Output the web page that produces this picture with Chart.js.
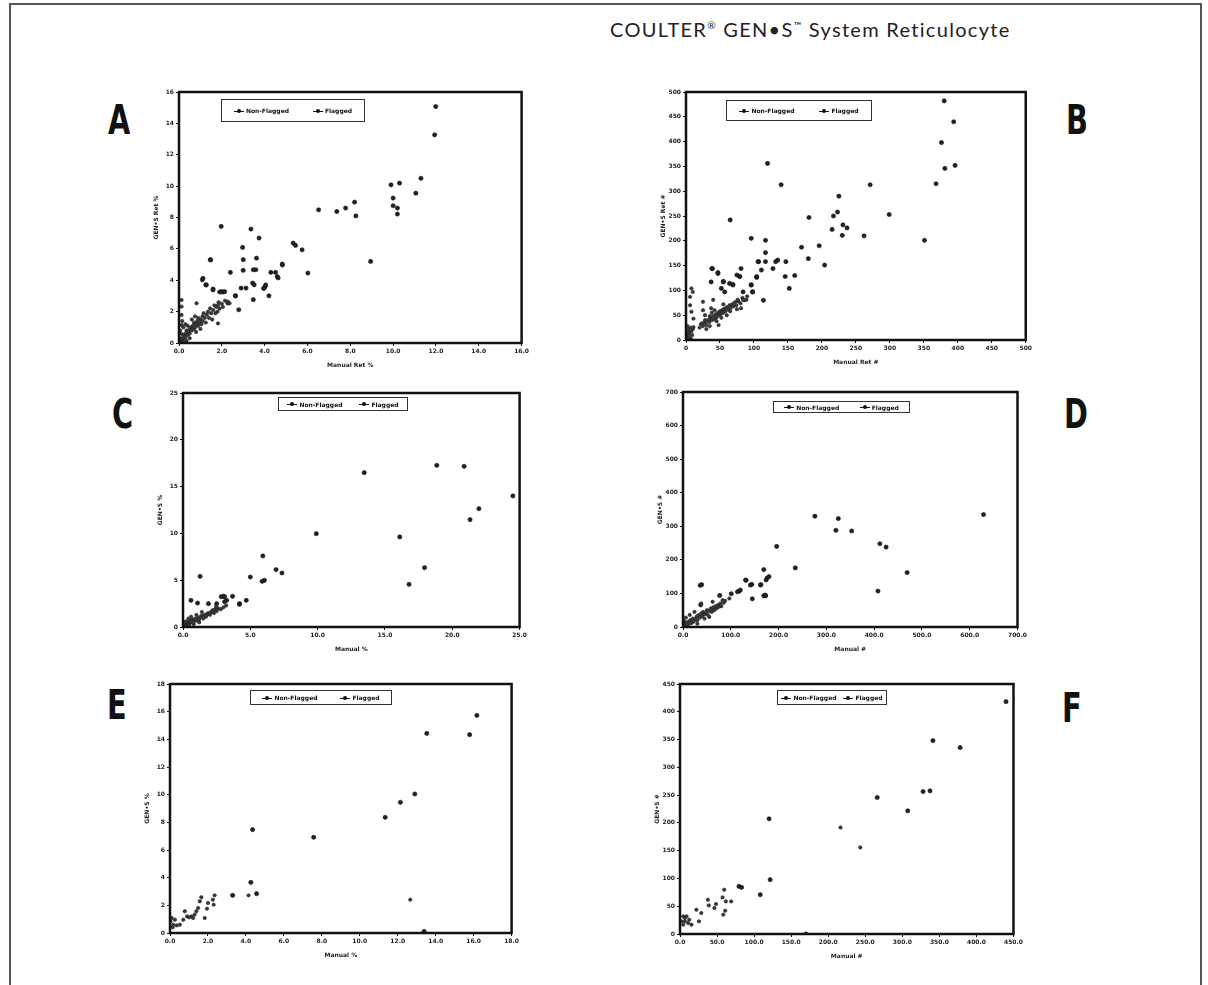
<!DOCTYPE html>
<html>
<head>
<meta charset="utf-8">
<script src="https://cdn.jsdelivr.net/npm/chart.js@4.4.1/dist/chart.umd.min.js"></script>
<style>
  html, body { margin: 0; padding: 0; background: #fff; }
  body { width: 1208px; height: 985px; position: relative; overflow: hidden; }
  .frame { position: absolute; left: 9px; top: 3px; width: 1189px; height: 1000px; border: 2px solid #555; border-bottom: none; }
  .title { position: absolute; left: 610px; top: 17px; font-family: "Lato", "Open Sans", sans-serif; font-size: 20px; letter-spacing: 1.3px; color: #222; white-space: nowrap; }
  .title sup { font-size: 10px; }
  .letter { position: absolute; font-family: "Liberation Sans Narrow", "DejaVu Sans Condensed", sans-serif; font-weight: bold; font-size: 40px; color: #111; line-height: 1; transform: scaleX(0.8); transform-origin: left top; }
  .panel { position: absolute; }
  .legend { position: absolute; border: 1px solid #333; display: flex; align-items: center; justify-content: space-around;
            font-family: "DejaVu Sans", sans-serif; font-size: 6px; font-weight: bold; color: #111; background: #fff; box-sizing: border-box;
            filter: grayscale(1); -webkit-font-smoothing: antialiased; }
  .legend span.m { display: inline-block; width: 10px; height: 1px; background: #111; position: relative; vertical-align: middle; margin-right: 2px; }
  .legend span.m::after { content: ""; position: absolute; left: 3px; top: -2px; width: 4px; height: 4px; border-radius: 50%; background: #111; }
</style>
</head>
<body>
<div class="frame"></div>
<div class="title">COULTER<sup>®</sup> GEN•S<sup>™</sup> System Reticulocyte</div>

<script>
// ---- data ----
const seriesNames = ["Non-Flagged", "Flagged"];

const aNonFlagged = [[0.05,0.1],[0.1,0.3],[0.15,0.2],[0.2,0.5],[0.1,0.6],[0.25,0.3],[0.3,0.6],[0.3,0.4],[0.35,0.8],[0.4,0.5],
  [0.45,0.7],[0.5,0.9],[0.5,0.6],[0.55,1.0],[0.6,0.8],[0.65,1.1],[0.7,0.9],[0.7,1.3],[0.75,1.0],[0.8,1.2],[0.85,1.4],[0.9,1.1],
  [0.9,1.6],[0.95,1.3],[1.0,1.5],[1.05,1.2],[1.1,1.7],[1.1,1.4],[1.15,1.9],[1.2,1.6],[1.25,1.3],[1.3,1.8],[1.35,2.0],[1.4,1.6],
  [1.45,2.2],[1.5,1.9],[1.55,1.5],[1.6,2.1],[1.65,2.4],[1.7,1.9],[1.75,2.3],[1.8,2.0],[1.85,2.6],[1.9,2.2],[2.0,2.5],[2.05,2.3],
  [2.15,2.7],[0.2,1.0],[0.15,1.4],[0.3,1.2],[0.4,1.1],[0.6,1.5],[0.75,1.7],[0.5,0.3],[0.8,0.7],[1.0,0.9],[0.05,0.8],[0.1,0.05],
  [0.2,0.1],[0.35,0.15],[0.12,2.74],[0.12,2.32],[0.12,1.79],[0.12,1.15],[0.82,2.53],[1.82,1.25],[1.82,2.42],[2.28,2.63],[2.36,2.53]];
const aFlagged = [[11.99,15.07],[11.94,13.27],[11.3,10.5],[11.06,9.55],[10.3,10.19],[9.9,10.08],[10.0,9.24],[10.0,8.75],[10.2,8.6],
  [10.2,8.22],[8.95,5.2],[8.2,8.98],[8.26,8.1],[7.78,8.6],[7.37,8.38],[6.52,8.49],[6.02,4.46],[5.75,5.94],[5.44,6.22],[5.33,6.37],
  [4.82,5.03],[4.59,4.24],[4.51,4.5],[4.2,3.01],[4.02,3.6],[3.98,3.5],[3.74,6.69],[3.62,5.41],[3.59,4.67],[3.47,4.67],[3.36,7.26],
  [3.44,3.82],[3.51,3.71],[3.47,2.76],[2.97,6.09],[3.0,5.31],[3.0,4.63],[2.9,3.5],[3.13,3.5],[2.79,2.12],[2.4,4.5],[2.63,3.01],
  [2.28,2.55],[1.97,7.43],[2.05,3.25],[1.9,3.25],[1.59,3.44],[1.46,5.31],[1.25,3.71],[1.09,4.03],[1.12,4.12],[1.28,3.7],[1.48,5.29],
  [1.59,3.38],[1.97,3.27],[2.13,3.27],[2.64,3.0],[3.95,3.48],[4.05,3.7],[4.29,4.5],[4.63,4.15],[4.83,4.97]];

const bNonFlagged = [[20,25],[22,32],[25,28],[28,35],[30,30],[32,40],[34,36],[36,44],[38,40],[40,48],[42,42],[44,52],[45,46],[47,55],
  [48,50],[50,58],[51,52],[53,60],[55,55],[56,63],[58,58],[60,66],[62,62],[64,70],[66,65],[68,72],[70,68],[72,76],[74,70],[77,78],
  [80,74],[83,85],[86,80],[90,88],[30,22],[35,28],[45,38],[52,45],[60,50],[65,58],[42,60],[55,72],[75,62],[48,30],[28,50],[38,55],
  [1,5],[2,12],[3,20],[4,8],[5,15],[6,25],[7,3],[8,18],[2,28],[9,10],[3,2],[10,22],[8,104],[10,97],[6,87],[6,70],[8,57],[11,43],
  [11,26],[25,77],[25,60],[28,40],[24,34],[40,81],[37,64],[35,48],[76,81],[81,64],[84,81],[89,81]];
const bFlagged = [[380,482],[394,440],[376,398],[381,346],[396,352],[368,315],[120,356],[140,313],[271,313],[299,253],[351,201],
  [225,290],[223,258],[217,250],[215,223],[230,211],[231,232],[237,226],[262,210],[181,247],[196,190],[204,151],[170,187],[180,164],
  [160,130],[146,128],[152,104],[147,158],[135,161],[132,158],[128,144],[117,201],[117,176],[117,158],[107,158],[104,126],[96,205],
  [96,111],[98,97],[114,80],[65,242],[81,144],[79,128],[75,131],[69,111],[55,117],[47,136],[38,144],[37,117],[39,144],[47,134],
  [55,118],[52,104],[57,97],[64,114],[69,112],[79,128],[84,97],[96,111],[98,97],[104,128],[106,158],[111,141]];

const cNonFlagged = [[0.1,0.1],[0.2,0.3],[0.3,0.2],[0.35,0.5],[0.5,0.4],[0.5,0.7],[0.6,0.5],[0.7,0.8],[0.8,0.6],[0.9,0.9],[1.0,0.7],
  [1.1,1.0],[1.2,0.8],[1.3,1.1],[1.4,1.2],[1.5,0.9],[1.6,1.3],[1.7,1.1],[1.8,1.4],[1.9,1.5],[2.0,1.3],[2.1,1.6],[2.2,1.8],[2.3,1.5],
  [2.4,1.9],[2.5,1.7],[2.6,2.0],[2.8,1.9],[3.0,2.1],[3.2,2.3],[0.2,0.6],[0.4,0.9],[0.15,0.15],[0.25,0.05],[0.6,1.1],[1.0,1.3],
  [1.4,1.6],[0.8,0.3],[1.2,0.5],[0.45,0.2],[2.45,2.17],[2.2,1.64],[1.74,1.28]];
const cFlagged = [[13.46,16.49],[18.85,17.27],[20.88,17.17],[24.5,14.0],[21.98,12.64],[21.32,11.47],[16.1,9.62],[9.9,9.97],
  [17.94,6.34],[16.79,4.56],[5.93,7.59],[6.91,6.13],[7.35,5.77],[6.05,4.99],[5.88,4.88],[5.0,5.34],[4.7,2.85],[4.2,2.49],[1.27,5.41],
  [0.59,2.85],[1.08,2.56],[1.89,2.49],[2.5,2.49],[3.0,3.28],[3.68,3.28],[3.24,2.85],[2.84,3.24],[3.09,3.24],[3.09,2.7],[4.19,2.42]];

const dNonFlagged = [[3,5],[5,12],[8,3],[10,15],[12,8],[15,20],[18,12],[20,25],[22,16],[25,22],[28,30],[30,20],[32,35],[35,28],
  [38,40],[40,32],[42,45],[45,38],[48,42],[50,50],[52,36],[55,48],[58,55],[60,45],[63,58],[65,50],[68,62],[70,55],[73,65],[75,60],
  [78,70],[80,62],[85,72],[88,78],[2,18],[6,28],[14,36],[24,45],[45,25],[30,10],[55,30],[38,70],[62,75],[76,93],[83,80],[97,85]];
const dFlagged = [[629,335],[276,330],[325,323],[320,288],[353,286],[412,248],[425,238],[469,162],[408,107],[196,240],[235,176],
  [169,171],[176,146],[163,126],[169,93],[173,93],[145,84],[132,139],[144,127],[118,107],[101,99],[77,94],[39,126],[36,124],[37,66],
  [114,105],[120,110],[131,140],[141,125],[162,125],[174,140],[180,150],[172,95]];

const eNonFlagged = [[2.35,2.72],[2.26,2.41],[2.3,2.05],[2.0,2.17],[1.95,1.76],[1.83,1.08],[1.65,2.58],[1.57,2.29],[1.48,1.81],
  [1.39,1.57],[1.3,1.33],[1.13,1.2],[0.9,1.2],[0.78,1.57],[0.7,0.96],[0.52,0.6],[0.26,0.96],[0.09,1.08],[0.17,0.6],[0.35,0.55],
  [0.03,0.84],[1.22,1.08],[1.0,1.13],[0.14,0.41],[4.14,2.72],[12.66,2.41]];
const eFlagged = [[16.17,15.73],[15.79,14.34],[13.53,14.43],[12.9,10.05],[12.14,9.45],[11.34,8.36],[7.57,6.92],[4.35,7.47],
  [4.26,3.66],[4.56,2.84],[3.3,2.72],[13.39,0.12]];

const fNonFlagged = [[59.7,79.7],[61.9,58.7],[61,41.9],[58.4,34.8],[69,58.7],[57.5,65.9],[46.4,46.7],[48.6,53.9],[37.6,61.7],
  [38.9,51.5],[28.7,37.7],[22.1,43.7],[25.6,22.8],[8.8,31.8],[4.4,31.8],[6.6,22.8],[11,19.8],[15.5,16.8],[2.2,22.8],[6.6,28.8],
  [12.4,25.8],[4.4,16.8],[243.2,155.8],[216.6,191.7]];
const fFlagged = [[439.9,418.2],[341.3,348.1],[378,335.5],[328,256.4],[337.3,257.6],[266.1,245.7],[307.3,221.7],[120.2,207.3],
  [121.6,97.7],[108.3,70.7],[79.6,85.7],[83.1,83.9],[170.2,0]];

// tick labels
const aXTicks = [0, 2, 4, 6, 8, 10, 12, 14, 16];
const aYTicks = [0, 2, 4, 6, 8, 10, 12, 14, 16];
const bXTicks = [0, 50, 100, 150, 200, 250, 300, 350, 400, 450, 500];
const bYTicks = [0, 50, 100, 150, 200, 250, 300, 350, 400, 450, 500];
const cXTicks = [0, 5, 10, 15, 20, 25];
const cYTicks = [0, 5, 10, 15, 20, 25];
const dXTicks = [0, 100, 200, 300, 400, 500, 600, 700];
const dYTicks = [0, 100, 200, 300, 400, 500, 600, 700];
const eXTicks = [0, 2, 4, 6, 8, 10, 12, 14, 16, 18];
const eYTicks = [0, 2, 4, 6, 8, 10, 12, 14, 16, 18];
const fXTicks = [0, 50, 100, 150, 200, 250, 300, 350, 400, 450];
const fYTicks = [0, 50, 100, 150, 200, 250, 300, 350, 400, 450];

// panel placement (plot area rectangles on the page)
const panels = [
  { letter: "A", lx: 108, ly: 100, plot: [179, 92, 525, 343], nf: aNonFlagged, fl: aFlagged, xt: aXTicks, yt: aYTicks, xd: 1, yd: 0,
    xTitle: "Manual Ret %", yTitle: "GEN•S Ret %", legend: [221, 99, 144, 23] },
  { letter: "B", lx: 1066, ly: 100, plot: [686, 92, 1028, 340], nf: bNonFlagged, fl: bFlagged, xt: bXTicks, yt: bYTicks, xd: 0, yd: 0,
    xTitle: "Manual Ret #", yTitle: "GEN•S Ret #", legend: [726, 100, 146, 21] },
  { letter: "C", lx: 112, ly: 394, plot: [183, 393, 523, 627], nf: cNonFlagged, fl: cFlagged, xt: cXTicks, yt: cYTicks, xd: 1, yd: 0,
    xTitle: "Manual %", yTitle: "GEN•S %", legend: [278, 397, 130, 14] },
  { letter: "D", lx: 1064, ly: 394, plot: [683, 392, 1023, 627], nf: dNonFlagged, fl: dFlagged, xt: dXTicks, yt: dYTicks, xd: 1, yd: 0,
    xTitle: "Manual #", yTitle: "GEN•S #", legend: [773, 401, 137, 12] },
  { letter: "E", lx: 107, ly: 685, plot: [170, 684, 515, 933], nf: eNonFlagged, fl: eFlagged, xt: eXTicks, yt: eYTicks, xd: 1, yd: 0,
    xTitle: "Manual %", yTitle: "GEN•S %", legend: [250, 690, 142, 15] },
  { letter: "F", lx: 1062, ly: 688, plot: [680, 684, 1019, 934], nf: fNonFlagged, fl: fFlagged, xt: fXTicks, yt: fYTicks, xd: 1, yd: 0,
    xTitle: "Manual #", yTitle: "GEN•S #", legend: [777, 690, 110, 15] }
];

const boxPlugin = {
  id: "box",
  afterDraw(chart) {
    const a = chart.chartArea, ctx = chart.ctx;
    ctx.save();
    ctx.strokeStyle = "#111";
    ctx.lineWidth = 2.5;
    ctx.strokeRect(a.left, a.top, a.right - a.left, a.bottom - a.top);
    ctx.restore();
  }
};

const AXW = 26, AXH = 30, PAD = 6;

panels.forEach((p) => {
  const [l, t, r, b] = p.plot;
  const cv = document.createElement("canvas");
  const w = (r - l) + AXW + PAD, h = (b - t) + PAD + AXH;
  const wrap = document.createElement("div");
  wrap.className = "panel";
  wrap.style.left = (l - AXW) + "px";
  wrap.style.top = (t - PAD) + "px";
  wrap.style.width = w + "px";
  wrap.style.height = h + "px";
  wrap.appendChild(cv);
  document.body.appendChild(wrap);

  const letter = document.createElement("div");
  letter.className = "letter";
  letter.style.left = p.lx + "px";
  letter.style.top = p.ly + "px";
  letter.textContent = p.letter;
  document.body.appendChild(letter);

  const lg = document.createElement("div");
  lg.className = "legend";
  lg.style.left = p.legend[0] + "px";
  lg.style.top = p.legend[1] + "px";
  lg.style.width = p.legend[2] + "px";
  lg.style.height = p.legend[3] + "px";
  lg.innerHTML = seriesNames.map((n) => '<span><span class="m"></span>' + n + "</span>").join("");
  document.body.appendChild(lg);

  const toXY = (arr) => arr.map((d) => ({ x: d[0], y: d[1] }));
  const axisFont = { family: "DejaVu Sans", size: 6, weight: "bold" };

  new Chart(cv, {
    type: "scatter",
    data: {
      datasets: [
        { label: seriesNames[0], data: toXY(p.nf), pointRadius: 1.7, backgroundColor: "#3a3a3a", borderColor: "#222", borderWidth: 0.6 },
        { label: seriesNames[1], data: toXY(p.fl), pointRadius: 2.1, backgroundColor: "#222", borderColor: "#111", borderWidth: 0.6 }
      ]
    },
    options: {
      responsive: true,
      maintainAspectRatio: false,
      animation: false,
      layout: { padding: { top: PAD, right: PAD, left: 0, bottom: 0 } },
      plugins: { legend: { display: false }, tooltip: { enabled: false } },
      scales: {
        x: {
          type: "linear",
          min: p.xt[0], max: p.xt[p.xt.length - 1],
          afterBuildTicks: (s) => { s.ticks = p.xt.map((v) => ({ value: v })); },
          afterFit: (s) => { s.height = AXH; },
          ticks: { font: axisFont, color: "#222", padding: 2, maxRotation: 0, autoSkip: false,
                   callback: (v) => Number(v).toFixed(p.xd) },
          grid: { drawOnChartArea: false, drawTicks: true, tickLength: 3, color: "#111" },
          border: { display: false },
          title: { display: true, text: p.xTitle, font: axisFont, color: "#222", padding: { top: 2, bottom: 4 } }
        },
        y: {
          type: "linear",
          min: p.yt[0], max: p.yt[p.yt.length - 1],
          afterBuildTicks: (s) => { s.ticks = p.yt.map((v) => ({ value: v })); },
          afterFit: (s) => { s.width = AXW; },
          ticks: { font: axisFont, color: "#222", padding: 2, autoSkip: false,
                   callback: (v) => Number(v).toFixed(p.yd) },
          grid: { drawOnChartArea: false, drawTicks: true, tickLength: 3, color: "#111" },
          border: { display: false },
          title: { display: true, text: p.yTitle, font: axisFont, color: "#222", padding: { top: 0, bottom: 2 } }
        }
      }
    },
    plugins: [boxPlugin]
  });
});
</script>
</body>
</html>
